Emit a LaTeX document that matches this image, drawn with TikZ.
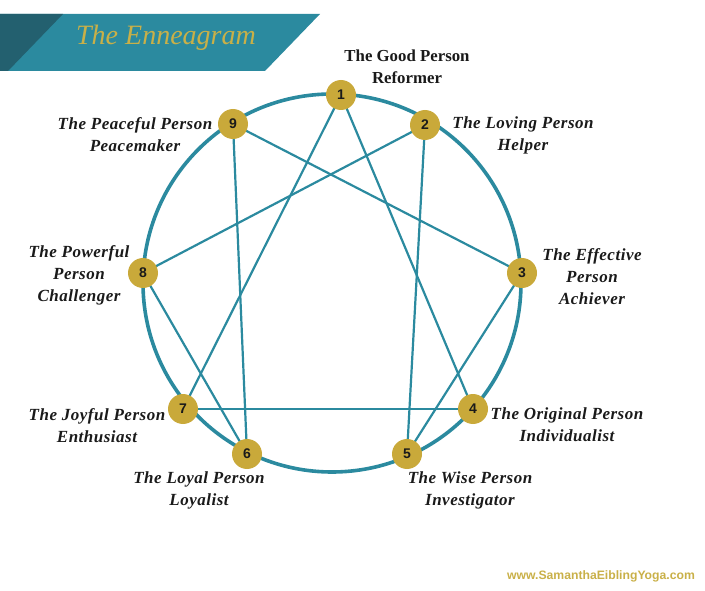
\documentclass[tikz,border=0pt]{standalone}
\usepackage{fontspec}
\setmainfont{Liberation Serif}
\newfontfamily\numfont{Liberation Sans}
\newfontfamily\lblfont[LetterSpace=3]{Liberation Serif}
\definecolor{teal1}{HTML}{2B8A9F}
\definecolor{tealdark}{HTML}{23606F}
\definecolor{gold}{HTML}{C9A93A}
\definecolor{goldtxt}{HTML}{C9B048}
\definecolor{ink}{HTML}{1A1A1A}
\begin{document}
\begin{tikzpicture}[x=1pt,y=-1pt,
  pt/.style={circle,fill=gold,minimum size=30pt,inner sep=0pt,font=\numfont\bfseries\fontsize{14}{14}\selectfont,text=ink},
  chord/.style={draw=teal1,line width=2.2pt},
  lbl/.style={align=center,font=\lblfont\bfseries\itshape\fontsize{17}{22}\selectfont,text=ink},
  lblup/.style={align=center,font=\bfseries\fontsize{16.8}{22}\selectfont,text=ink}]
\useasboundingbox (0,0) rectangle (705,591);
% banner
\fill[teal1] (0,14) -- (320,14) -- (265,71) -- (0,71) -- cycle;
\fill[tealdark] (0,14) -- (63,14) -- (8,71) -- (0,71) -- cycle;
\node[text=goldtxt,font=\itshape\fontsize{28}{28}\selectfont] (title) at (166,38) {The Enneagram};
% circle
\coordinate (c) at (332,283);
\draw[teal1,line width=3.6pt] (c) circle[radius=189];
% points
\coordinate (p1) at (341,95);
\coordinate (p2) at (425,125);
\coordinate (p3) at (522,273);
\coordinate (p4) at (473,409);
\coordinate (p5) at (407,454);
\coordinate (p6) at (247,454);
\coordinate (p7) at (183,409);
\coordinate (p8) at (143,273);
\coordinate (p9) at (233,124);
\draw[chord] (p1) -- (p4);
\draw[chord] (p1) -- (p7);
\draw[chord] (p2) -- (p5);
\draw[chord] (p2) -- (p8);
\draw[chord] (p3) -- (p9);
\draw[chord] (p3) -- (p5);
\draw[chord] (p4) -- (p7);
\draw[chord] (p6) -- (p8);
\draw[chord] (p6) -- (p9);
\foreach \i in {1,...,9} {\node[pt] (n\i) at (p\i) {\i};}
% labels
\node[lblup] (l1) at (407,67) {The Good Person\\Reformer};
\node[lbl] (l2) at (523,135) {The Loving Person\\Helper};
\node[lbl] (l3) at (592,277) {The Effective\\Person\\Achiever};
\node[lbl] (l4) at (567,425) {The Original Person\\Individualist};
\node[lbl] (l5) at (470,490) {The Wise Person\\Investigator};
\node[lbl] (l6) at (199,490) {The Loyal Person\\Loyalist};
\node[lbl] (l7) at (97,426) {The Joyful Person\\Enthusiast};
\node[lbl] (l8) at (79,275) {The Powerful\\Person\\Challenger};
\node[lbl] (l9) at (135,135) {The Peaceful Person\\Peacemaker};
\node[text=goldtxt,font=\numfont\bfseries\fontsize{12.2}{12}\selectfont] (web) at (601,576) {www.SamanthaEiblingYoga.com};
\end{tikzpicture}
\end{document}
